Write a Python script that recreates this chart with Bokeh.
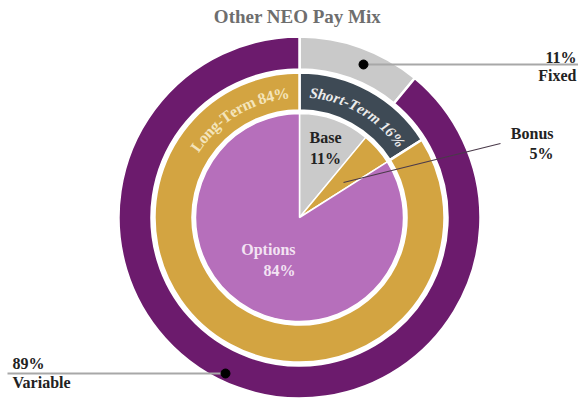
import math
from bokeh.plotting import figure
from bokeh.models import Range1d
from bokeh.core.properties import value
from bokeh.embed import file_html
from bokeh.resources import INLINE

# ---- data ----
title_text = "Other NEO Pay Mix"
outer_labels = ["Fixed", "Variable"]
outer_values = [11, 89]
outer_colors = ["#c9c9c9", "#6c1b6d"]
mid_labels = ["Short-Term", "Long-Term"]
mid_values = [16, 84]
mid_colors = ["#3e4a55", "#d3a441"]
inner_labels = ["Base", "Bonus", "Options"]
inner_values = [11, 5, 84]
inner_colors = ["#cacaca", "#d3a441", "#b66fbb"]

FONT = value("Liberation Serif")

W, H = 578, 403
CX, CY = 299, 217
# data coords: pixel offsets from pie centre, y up
p = figure(width=W, height=H, output_backend="svg", toolbar_location=None,
           x_range=Range1d(-CX, W - CX), y_range=Range1d(CY - H, CY),
           min_border=0)
p.axis.visible = False
p.grid.visible = False
p.outline_line_color = None
p.background_fill_color = "white"


def angles(vals):
    tot = float(sum(vals))
    starts, ends = [], []
    c = 0.0
    for v in vals:
        starts.append(math.pi / 2 - 2 * math.pi * c / tot)
        c += v
        ends.append(math.pi / 2 - 2 * math.pi * c / tot)
    return starts, ends


R_OUT, R_OUT_IN = 181, 148
R_MID, R_MID_IN = 145, 107
R_PIE = 104

s, e = angles(outer_values)
p.annular_wedge(x=0, y=0, inner_radius=R_OUT_IN, outer_radius=R_OUT,
                start_angle=s, end_angle=e, direction="clock",
                fill_color=outer_colors, line_color="white", line_width=2.5)
s, e = angles(mid_values)
p.annular_wedge(x=0, y=0, inner_radius=R_MID_IN, outer_radius=R_MID,
                start_angle=s, end_angle=e, direction="clock",
                fill_color=mid_colors, line_color="white", line_width=2.5)
s, e = angles(inner_values)
p.wedge(x=0, y=0, radius=R_PIE, start_angle=s, end_angle=e, direction="clock",
        fill_color=inner_colors, line_color="white", line_width=1.5)

# ---- curved ring labels ----
WID = {"L": .667, "o": .5, "n": .556, "g": .5, "-": .333, "T": .667, "e": .444,
       "r": .444, "m": .833, " ": .25, "8": .5, "4": .5, "%": 1.0, "S": .556,
       "h": .556, "t": .333, "1": .5, "6": .5}


def arc_text(s, center_deg, r, size, color, style):
    w = [WID.get(c, .5) * size for c in s]
    total = sum(w)
    start = math.radians(center_deg) - (total / r) / 2
    xs, ys, ang, chars = [], [], [], []
    cum = 0.0
    for c, wi in zip(s, w):
        th = start + (cum + wi / 2) / r
        cum += wi
        xs.append(r * math.sin(th))
        ys.append(r * math.cos(th))
        ang.append(-th)
        chars.append(c)
    p.text(x=xs, y=ys, text=chars, angle=ang, text_align="center",
           text_baseline="middle", text_font=FONT, text_font_size=f"{size}px",
           text_font_style=style, text_color=color)


arc_text(f"{mid_labels[1]} {mid_values[1]}%", -31, 125, 16, "#f4e4bb", "bold")
arc_text(f"{mid_labels[0]} {mid_values[0]}%", 30, 125, 15, "#ececec", "bold italic")


def label(x, y, t, align="left", color="#222222", size=17, style="bold"):
    p.text(x=[x], y=[y], text=[t], text_align=align, text_baseline="middle",
           text_font=FONT, text_font_size=f"{size}px", text_font_style=style,
           text_color=color)


# title
label(-2, CY - 16, title_text, align="center", color="#6e6e6e", size=19)

# Fixed callout
p.line(x=[64, 279], y=[153, 153], line_color="#a8a8a8", line_width=2)
p.scatter(x=[64], y=[153], size=9, color="black")
label(576 - CX, CY - 57, f"{outer_values[0]}%", align="right", size=16)
label(576 - CX, CY - 75, outer_labels[0], align="right", size=16)

# Variable callout
p.line(x=[7 - CX, -74], y=[-156, -156], line_color="#a8a8a8", line_width=2)
p.scatter(x=[-74], y=[-156], size=9, color="black")
label(12 - CX, CY - 363, f"{100 - outer_values[0]}%", size=16)
label(12 - CX, CY - 382, outer_labels[1], size=16)

# Bonus callout
p.line(x=[44, 201], y=[35, 74], line_color="#4a3a4a", line_width=1.2)
label(553 - CX, CY - 133, inner_labels[1], align="right", size=16)
label(553 - CX, CY - 153, f"{inner_values[1]}%", align="right", size=16)

# Base label
label(325 - CX, CY - 137, inner_labels[0], align="center", size=16)
label(325 - CX, CY - 158, f"{inner_values[0]}%", align="center", size=16)

# Options label
label(295 - CX, CY - 249, inner_labels[2], align="right", color="#f3e3f3", size=16)
label(295 - CX, CY - 270, f"{inner_values[2]}%", align="right", color="#f3e3f3", size=16)

open("out.html", "w").write(file_html(p, INLINE))
